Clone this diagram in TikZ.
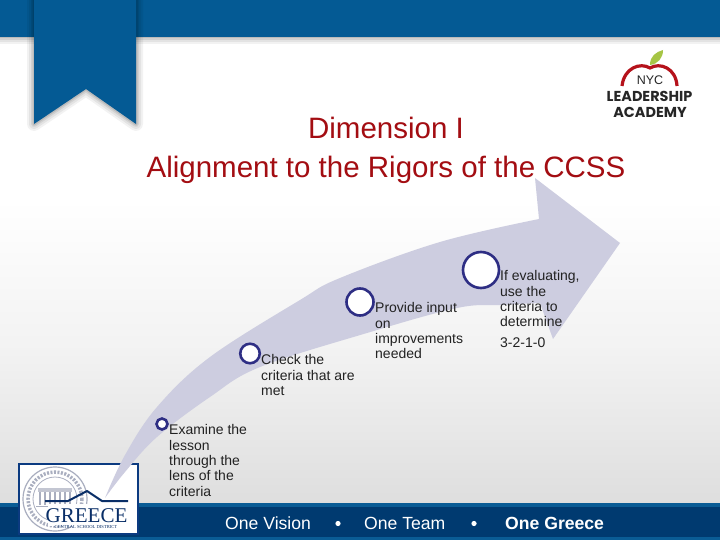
\documentclass[tikz,border=0pt]{standalone}
\usepackage{fontspec}
\setmainfont{Liberation Sans}
\newfontfamily\logofont{Poppins}
\newfontfamily\seriffont{Liberation Serif}
\usetikzlibrary{shapes.geometric}
\definecolor{bandblue}{HTML}{045A94}
\definecolor{darkband}{HTML}{003A70}
\definecolor{edgeband}{HTML}{0A5C95}
\definecolor{arrowfill}{HTML}{CDCDE0}
\definecolor{ringnavy}{HTML}{2E2E84}
\definecolor{titlered}{HTML}{A30D12}
\definecolor{textgrey}{HTML}{222222}
\definecolor{logonavy}{HTML}{0B3A80}
\definecolor{sealgrey}{HTML}{A9AEBF}
\definecolor{applered}{HTML}{B5121B}
\definecolor{leafgreen}{HTML}{A6C545}
\tikzset{
  ring/.style={circle,draw=ringnavy,fill=white,line width=2.6pt,inner sep=0pt},
  lab/.style={anchor=north west,inner sep=0pt,align=left,text=textgrey,font=\fontsize{14}{15.3}\selectfont},
  ttl/.style={inner sep=0pt,text=titlered,font=\fontsize{29.5}{36}\selectfont,anchor=base},
  foot/.style={inner sep=0pt,text=white,font=\fontsize{17.6}{20}\selectfont,anchor=base west},
}
\begin{document}
\begin{tikzpicture}[x=1pt,y=-1pt]
\useasboundingbox (0,0) rectangle (720,540);
% background
\shade[top color=white,bottom color=white] (0,0) rectangle (720,200);
\shade[top color=white,bottom color=white!95!black] (0,200) rectangle (720,350);
\shade[top color=white!95!black,bottom color=white!87!black] (0,350) rectangle (720,505);
% bands
\foreach \w/\o in {14/.05,10/.06,6/.08,3/.1}
  \draw[black,opacity=\o,line width=\w pt] (-10,37) -- (730,37);
\fill[bandblue] (0,0) rectangle (720,37);
% ribbon
\foreach \w/\o in {14/.05,10/.06,6/.08,3/.1}
  \draw[black,opacity=\o,line width=\w pt,line join=round] (34,-5) -- (34,124) -- (86,89) -- (136,124) -- (136,-5);
\fill[bandblue] (34,0) -- (34,124) -- (86,89) -- (136,124) -- (136,0) -- cycle;
% bottom band
\fill[edgeband] (0,503) rectangle (720,540);
\fill[darkband] (0,507) rectangle (720,537);
% Greece logo
\fill[white] (18,463) rectangle (139,535);
\draw[logonavy,line width=2.6pt] (19,464) rectangle (138,534);
\draw[sealgrey,line width=1.2pt] (55,499) circle (32);
\draw[sealgrey,line width=.8pt] (55,499) circle (22);
\draw[sealgrey,line width=3.5pt,dash pattern=on 2pt off 1.5pt] (55,499) circle (27);
\fill[sealgrey!70] (38,488) rectangle (72,492);
\foreach \i in {40,45,...,70} \draw[sealgrey,line width=1.4pt] (\i,492) -- (\i,505);
\draw[sealgrey,line width=1pt] (36,506) -- (74,506);
\draw[logonavy!80!black,line width=2pt,line join=round] (45,501) -- (68,501) -- (87,491) -- (102,501) -- (128,501);
\fill[white] (48,504) rectangle (126,526);
\node[inner sep=0pt,text=logonavy!80!black,font=\seriffont\fontsize{21}{21}\selectfont] (greece) at (86.5,515.5) {GREECE};
\node[inner sep=0pt,text=logonavy!80!black,font=\seriffont\fontsize{4.6}{5}\selectfont] (district) at (86,526.5) {CENTRAL SCHOOL DISTRICT};
% NYC logo
\fill[white] (592,48) rectangle (707,118);
\draw[applered,line width=3.2pt] (622,86) .. controls (624,68) and (640,62) .. (650,68) .. controls (660,62) and (676,68) .. (677,86);
\fill[leafgreen] (650,65) .. controls (650,56) and (656,52) .. (663,50) .. controls (663,58) and (658,64) .. (650,65) -- cycle;
\node[inner sep=0pt,text=black!85,font=\fontsize{12.5}{13}\selectfont] (nyc) at (650,80) {NYC};
\node[inner sep=0pt,text=black!85,font=\logofont\bfseries\fontsize{14.4}{15}\selectfont] (lead) at (649.5,96) {LEADERSHIP};
\node[inner sep=0pt,text=black!85,font=\logofont\bfseries\fontsize{14.4}{15}\selectfont] (acad) at (650,112) {ACADEMY};
% arrow
\fill[arrowfill] plot[smooth,tension=.6] coordinates {(105,498) (125,455) (157,407) (210,357) (300,300) (340,278) (440,242) (539,219)}
  -- (535,178) -- (620,243) -- (553,339) -- (540,303)
  -- plot[smooth,tension=.6] coordinates {(540,303) (500,305) (457,308) (367,333) (260,367) (210,397) (157,437) (125,472) (105,498)} -- cycle;
% title
\node[ttl] (t1) at (386,139) {Dimension I};
\node[ttl] (t2) at (386,178) {Alignment to the Rigors of the CCSS};
% rings
\node[ring,minimum size=11pt] (r1) at (162,424) {};
\node[ring,minimum size=19.5pt] (r2) at (250,353.5) {};
\node[ring,minimum size=27pt] (r3) at (360,302) {};
\node[ring,minimum size=36pt] (r4) at (481,270) {};
% labels
\node[lab] (l1) at (169,424.5) {Examine the\\lesson\\through the\\lens of the\\criteria};
\node[lab] (l2) at (261,354.5) {Check the\\criteria that are\\met};
\node[lab] (l3) at (375,302.5) {Provide input\\on\\improvements\\needed};
\node[lab] (l4) at (500,270.5) {If evaluating,\\use the\\criteria to\\determine};
\node[lab] (l5) at (500,337.5) {3-2-1-0};
% footer
\node[foot] (f1) at (225,529) {One Vision};
\node[foot] (f2) at (364,529) {One Team};
\node[foot,font=\bfseries\fontsize{17.6}{20}\selectfont] (f3) at (505,529) {One Greece};
\fill[white] (338,523.5) circle (2.6);
\fill[white] (474,523.5) circle (2.6);
\end{tikzpicture}
\end{document}
